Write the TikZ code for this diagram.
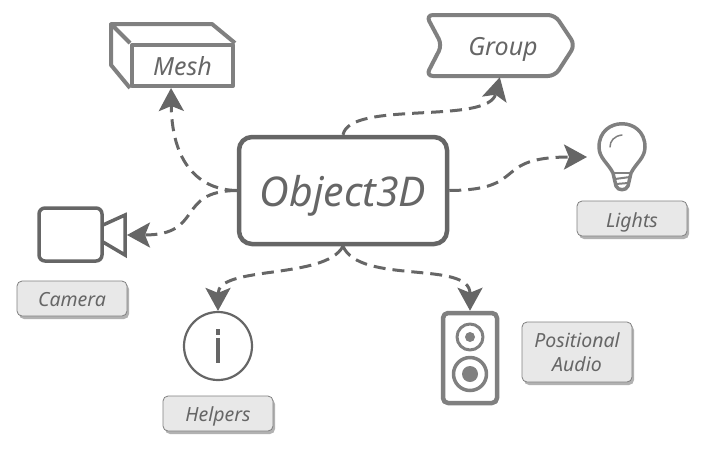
\documentclass[tikz,border=0pt]{standalone}
\usepackage{fontspec}
\setmainfont{Noto Sans}
\usetikzlibrary{arrows.meta,positioning,shadows}
\definecolor{inkdark}{HTML}{666666}
\definecolor{inkmid}{HTML}{808080}
\definecolor{labelfill}{HTML}{E8E8E8}
\newcommand{\lowtext}[2]{\raisebox{-#1}[0pt][0pt]{#2}}
\tikzset{
  flow/.style={draw=inkdark,line width=3pt,dash pattern=on 12pt off 7pt,-{Stealth[length=23pt,width=25pt,inset=5pt]}},
  labelbox/.style={draw=inkmid,line width=.8pt,fill=labelfill,rounded corners=5pt,minimum width=110pt,minimum height=35pt,
    align=center,inner sep=0pt,text=inkdark,font=\fontsize{19.5}{24}\selectfont\itshape,
    drop shadow={shadow xshift=2pt,shadow yshift=-3pt,fill=black!30,opacity=1}},
  iconline/.style={draw=inkmid,line width=4pt,line join=round},
}
\begin{document}
\begin{tikzpicture}[x=1pt,y=-1pt]
\useasboundingbox (0,0) rectangle (704,451);
% centre
\node[draw=inkdark,line width=4.5pt,rounded corners=13pt,minimum width=208pt,minimum height=107pt,inner sep=0pt,text=inkdark,
  font=\fontsize{41}{48}\selectfont\itshape] (object) at (343,190.5) {\lowtext{16pt}{Object3D}};
% mesh
\node[iconline,minimum width=101pt,minimum height=41pt,inner sep=0pt,text=inkdark,font=\fontsize{25}{30}\selectfont\itshape] (mesh) at (182.5,65.5) {\lowtext{10pt}{Mesh}};
\coordinate (meshback) at (111,24);
\draw[iconline] (mesh.north west)--(meshback)--(212,24)--(mesh.north east);
\draw[iconline] (meshback)--(111,65)--(mesh.south west);
% group
\node[minimum width=148pt,minimum height=60pt,inner sep=0pt,text=inkdark,font=\fontsize{25}{30}\selectfont\itshape] (group) at (503,47) {\lowtext{8pt}{Group}};
\draw[iconline,rounded corners=7pt] (426,15)--(555,15)--(575,45)--(555,76)--(426,76)--(442,45)--cycle;
% lights
\node[minimum size=46pt,inner sep=0pt] (bulb) at (622,147) {};
\draw[draw=inkmid,line width=3.5pt,line join=round] (613,173) .. controls (608,163) and (599,158) .. (599,147)
  .. controls (599,116) and (645,116) .. (645,147) .. controls (645,158) and (636,163) .. (631,173)
  -- (628,186) .. controls (626,191) and (618,191) .. (616,186) -- cycle;
\draw[draw=inkmid,line width=2pt] (613,173)--(631,173);
\draw[draw=inkmid,line width=2pt] (615,179)--(630,177);
\draw[draw=inkmid,line width=2pt] (616,184)--(628,183);
\draw[draw=inkmid,line width=1.5pt,line cap=round] (610,147) .. controls (610,141) and (614,136) .. (622,135);
\node[labelbox] (lights) at (632,218.5) {\lowtext{8.5pt}{Lights}};
% camera
\node[draw=inkdark,line width=3.5pt,rounded corners=6pt,minimum width=63pt,minimum height=53pt,inner sep=0pt] (cam) at (70.5,234.5) {};
\draw[draw=inkdark,line width=3.5pt,line join=miter] (103,225)--(125,215)--(125,255)--(103,242);
\coordinate (lens) at (127,235);
\node[labelbox] (camera) at (72,298.5) {\lowtext{8pt}{Camera}};
% helpers
\node[circle,draw=inkdark,line width=2.2pt,minimum size=68pt,inner sep=0pt] (info) at (218,346) {};
\fill[inkdark] (216,329) rectangle (220,335);
\fill[inkdark] (216,338) rectangle (220,363);
\node[labelbox] (helpers) at (218,413.5) {\lowtext{8pt}{Helpers}};
% audio
\node[iconline,line width=4.5pt,rounded corners=5pt,minimum width=54pt,minimum height=90pt,inner sep=0pt] (speaker) at (470,358) {};
\node[circle,iconline,line width=3pt,minimum size=26pt,inner sep=0pt] (tweeter) at (470,337) {};
\fill[inkmid] (tweeter) circle (5);
\node[circle,iconline,line width=3.5pt,minimum size=33pt,inner sep=0pt] (woofer) at (470,374) {};
\fill[inkmid] (woofer) circle (8);
\node[labelbox,minimum height=60pt] (audio) at (577,352) {Positional\\Audio};
% connectors
\draw[flow] (object.west) .. controls (205,190) and (172,170) .. (mesh.243);
\draw[flow] (object.west) .. controls (175,191) and (205,235) .. (lens);
\draw[flow] (object.north) .. controls (350,100) and (488,125) .. (group.264);
\draw[flow] (object.east) .. controls (530,190) and (490,157) .. (587,157);
\draw[flow] (object.south) .. controls (325,280) and (218,265) .. (info.north);
\draw[flow] (object.south) .. controls (360,285) and (470,260) .. (speaker.north);
\end{tikzpicture}
\end{document}
